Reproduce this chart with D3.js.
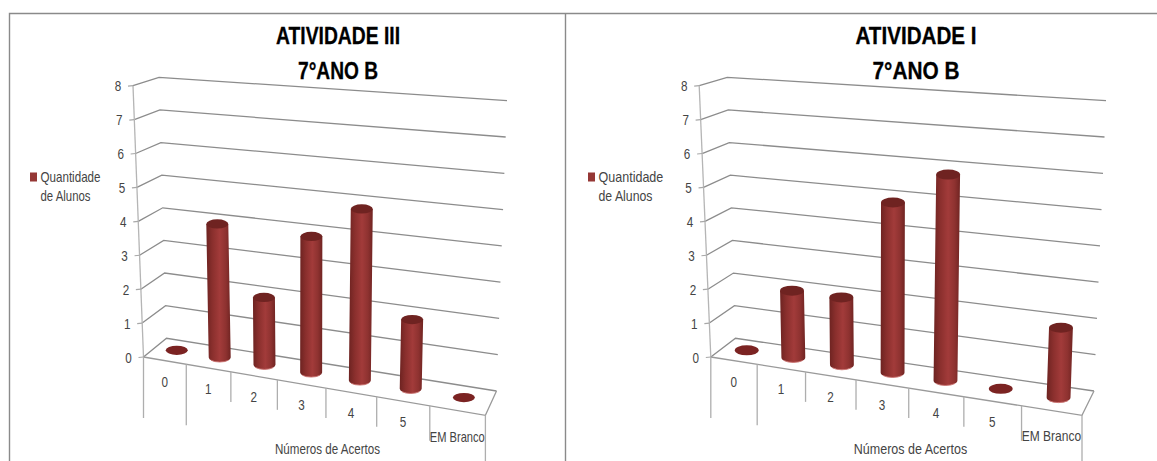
<!DOCTYPE html>
<html lang="pt">
<head>
<meta charset="utf-8">
<title>Atividades 7° ano B</title>
<script src="https://cdn.jsdelivr.net/npm/d3@7/dist/d3.min.js"></script>
<style>
  html, body { margin: 0; padding: 0; background: #fff; overflow: hidden; }
  text { font-family: "Liberation Sans", sans-serif; fill: #444; }
  .title { font-weight: 700; fill: #000; stroke: #000; stroke-width: 0.3; }
</style>
</head>
<body>
<svg id="chart" width="1157" height="461"></svg>
<script>
// Answer categories and value axis shared by both panels
const categories = ["0", "1", "2", "3", "4", "5", "EM Branco"];
const valueTicks = [0, 1, 2, 3, 4, 5, 6, 7, 8];

// Number of students per category
const atividade3Values = [0, 4, 2, 4, 5, 2, 0];
const atividade1Values = [0, 2, 2, 5, 6, 0, 2];

const subtitle = "7°ANO B";
const xAxisTitle = "Números de Acertos";
const legendLines = ["Quantidade", "de Alunos"];

// Panel layout: floor corners (front-left, front-right, back-right, back-left)
// and how far the top of the value axis sits from each corner
const panels = [
  {
    title: "ATIVIDADE III", values: atividade3Values, titleX: 338, titleWidth: 124, subWidth: 80,
    legendX: 30, axisTitleX: 327.5, textScale: 1,
    floor: [[143.5, 357], [485.4, 415.3], [496.5, 391], [166.5, 338.3]],
    rise:  [[-10.5, -271.3], [9, -276], [10.5, -290.3], [-7.5, -261]]
  },
  {
    title: "ATIVIDADE I", values: atividade1Values, titleX: 916, titleWidth: 121, subWidth: 87,
    legendX: 588, axisTitleX: 910.5, textScale: 1.08,
    floor: [[710.8, 357], [1082, 415.3], [1094, 391], [735.5, 338.3]],
    rise:  [[-11.6, -271.3], [10, -276], [12, -290.3], [-8.3, -261]]
  }
];

const svg = d3.select("#chart");

// Cylinder shading, left to right
const defs = svg.append("defs");
const grad = defs.append("linearGradient").attr("id", "cyl");
[[0, "#6d2321"], [0.25, "#8a2f2d"], [0.55, "#a23b3a"], [0.8, "#8e3230"], [1, "#702422"]]
  .forEach(([o, c]) => grad.append("stop").attr("offset", o).attr("stop-color", c));

// Projective map from the unit square onto a quad (p00, p10, p11, p01)
function quadMap([p0, p1, p2, p3]) {
  const dx1 = p1[0] - p2[0], dx2 = p3[0] - p2[0], sx = p0[0] - p1[0] + p2[0] - p3[0];
  const dy1 = p1[1] - p2[1], dy2 = p3[1] - p2[1], sy = p0[1] - p1[1] + p2[1] - p3[1];
  const den = dx1 * dy2 - dx2 * dy1;
  const g = (sx * dy2 - dx2 * sy) / den;
  const h = (dx1 * sy - sx * dy1) / den;
  const a = p1[0] - p0[0] + g * p1[0], b = p3[0] - p0[0] + h * p3[0], c = p0[0];
  const d = p1[1] - p0[1] + g * p1[1], e = p3[1] - p0[1] + h * p3[1], f = p0[1];
  return (u, v) => {
    const w = g * u + h * v + 1;
    return [(a * u + b * v + c) / w, (d * u + e * v + f) / w];
  };
}

// Bilinear blend of the four corner offsets
function blend([r0, r1, r2, r3], u, d) {
  return [0, 1].map(k =>
    (1 - d) * ((1 - u) * r0[k] + u * r1[k]) + d * ((1 - u) * r3[k] + u * r2[k]));
}

function drawPanel(p) {
  const g = svg.append("g");
  const floorAt = quadMap(p.floor);
  const lift = d3.scaleLinear().domain([0, 8]).range([0, 1]);
  const band = d3.scaleBand().domain(categories).range([0, 1]).paddingInner(0.55).paddingOuter(0.275);
  const slot = d3.scaleBand().domain(categories).range([0, 1]);

  // Screen position of a point along the width (u), depth (d) and height (value)
  const project = (u, d, value) => {
    const a = floorAt(u, d), r = blend(p.rise, u, d), t = lift(value);
    return [a[0] + r[0] * t, a[1] + r[1] * t];
  };
  const line = d3.line();
  const gridColor = "#8c8c8c";
  const sized = (sel, width) => sel.attr("textLength", width).attr("lengthAdjust", "spacingAndGlyphs");

  // Gridlines: along the side wall, then across the back wall
  g.append("g").selectAll("path").data(valueTicks).join("path")
    .attr("d", v => line([project(0, 0, v), project(0, 1, v), project(1, 1, v)]))
    .attr("fill", "none").attr("stroke", gridColor).attr("stroke-width", 1.3);

  // Value axis and tick labels on the front corner
  g.append("path").attr("d", line([project(0, 0, 0), project(0, 0, 8)]))
    .attr("fill", "none").attr("stroke", "#b5b5b5").attr("stroke-width", 1.3);
  const ticks = g.append("g").selectAll("g").data(valueTicks).join("g");
  ticks.append("path")
    .attr("d", v => { const q = project(0, 0, v); return line([q, [q[0] - 5, q[1] + 0.5]]); })
    .attr("stroke", "#a8a8a8").attr("stroke-width", 1.2);
  sized(ticks.append("text")
    .attr("x", v => project(0, 0, v)[0] - 15)
    .attr("y", v => project(0, 0, v)[1] + 5.5)
    .attr("text-anchor", "middle").attr("font-size", 15)
    .text(d => d), 6.5);

  // Front and right edges of the floor
  g.append("path").attr("d", line([project(0, 0, 0), project(1, 0, 0), project(1, 1, 0)]))
    .attr("fill", "none").attr("stroke", "#9a9a9a").attr("stroke-width", 1.3);

  // Category separators hanging from the front edge: long, then short
  const edges = categories.map(c => slot(c)).concat([1]);
  const drop = [61, 61, 30, 30, 30, 30, 35, 50];
  g.append("g").selectAll("path").data(edges).join("path")
    .attr("d", (u, i) => { const q = project(u, 0, 0); return line([q, [q[0], q[1] + drop[i]]]); })
    .attr("stroke", "#aeaeae").attr("stroke-width", 1.3);

  // Category labels
  g.append("g").selectAll("text").data(categories).join("text")
    .attr("x", c => project(slot(c) + slot.bandwidth() / 2, 0, 0)[0])
    .attr("y", (c, i) => project(slot(c) + slot.bandwidth() / 2, 0, 0)[1] + (i === 6 ? 31 : 26))
    .attr("text-anchor", "middle").attr("font-size", 15)
    .text(c => c)
    .attr("textLength", (c, i) => i === 6 ? 55 * p.textScale : 6.5)
    .attr("lengthAdjust", "spacingAndGlyphs");

  // Cylinders, or a flat disc where the count is zero
  const rows = categories.map((c, i) => ({ c, v: p.values[i] }));
  const bars = g.append("g").selectAll("g").data(rows).join("g");
  const rx = band.bandwidth() * (p.floor[1][0] - p.floor[0][0]) / 2;
  const ry = rx * 0.42;
  const barDepth = 0.53;
  const barRise = 0.99;
  const centre = (r, value) => project(band(r.c) + band.bandwidth() / 2, barDepth, value * barRise);

  bars.filter(r => r.v > 0).append("path")
    .attr("fill", "url(#cyl)")
    .attr("d", r => {
      const b = centre(r, 0), t = centre(r, r.v);
      return `M${t[0] - rx},${t[1]} L${b[0] - rx},${b[1]} A${rx},${ry} 0 0 0 ${b[0] + rx},${b[1]} L${t[0] + rx},${t[1]} Z`;
    });
  // Pale rim catching the light along the foot of each cylinder
  bars.filter(r => r.v > 0).append("path")
    .attr("fill", "none").attr("stroke", "#c9726f").attr("stroke-width", 0.9)
    .attr("d", r => {
      const b = centre(r, 0);
      return `M${b[0] - rx * 0.8},${b[1] + ry * 0.6} A${rx},${ry} 0 0 0 ${b[0] + rx * 0.8},${b[1] + ry * 0.6}`;
    });
  bars.append("ellipse")
    .attr("cx", r => centre(r, r.v)[0])
    .attr("cy", r => centre(r, r.v)[1])
    .attr("rx", rx)
    .attr("ry", ry)
    .attr("fill", r => r.v > 0 ? "#6f2321" : "#7b2322");

  // Chart titles
  const head = g.append("g").attr("text-anchor", "middle");
  sized(head.append("text").attr("class", "title").attr("x", p.titleX).attr("y", 44).attr("font-size", 24)
    .text(p.title), p.titleWidth);
  sized(head.append("text").attr("class", "title").attr("x", p.titleX).attr("y", 79).attr("font-size", 24)
    .text(subtitle), p.subWidth);

  // Legend
  g.append("rect").attr("x", p.legendX).attr("y", 172.5).attr("width", 7).attr("height", 9).attr("fill", "#953735");
  const legendWidths = [60, 50];
  g.append("g").selectAll("text").data(legendLines).join("text")
    .attr("x", p.legendX + 10.5).attr("y", (d, i) => 182 + i * 19)
    .attr("font-size", 15).text(d => d)
    .attr("textLength", (d, i) => legendWidths[i] * p.textScale)
    .attr("lengthAdjust", "spacingAndGlyphs");

  // Horizontal axis title
  sized(g.append("text").attr("x", p.axisTitleX).attr("y", 454).attr("text-anchor", "middle")
    .attr("font-size", 15).text(xAxisTitle), 105 * p.textScale);
}

panels.forEach(drawPanel);

// Frame around the two panels
const frame = d3.line();
svg.append("path")
  .attr("d", frame([[9.5, 461], [9.5, 13.5], [1157, 13.5]]))
  .attr("fill", "none").attr("stroke", "#8a8a8a").attr("stroke-width", 1.4);
svg.append("path")
  .attr("d", frame([[565.5, 13.5], [565.5, 461]]))
  .attr("fill", "none").attr("stroke", "#8a8a8a").attr("stroke-width", 1.4);
</script>
</body>
</html>
